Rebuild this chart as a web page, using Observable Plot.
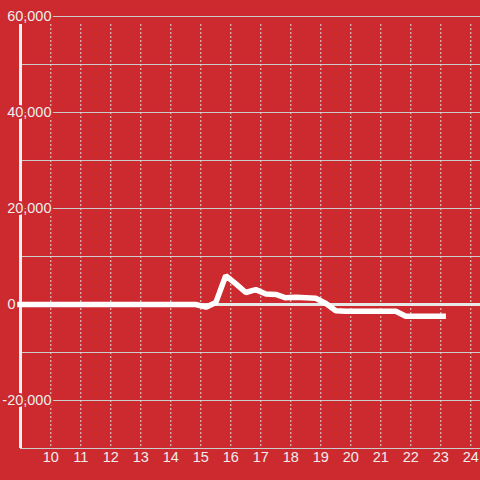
<!DOCTYPE html>
<html>
<head>
<meta charset="utf-8">
<script src="https://cdn.jsdelivr.net/npm/d3@7"></script>
<script src="https://cdn.jsdelivr.net/npm/@observablehq/plot@0.6"></script>
<style>
  html, body { margin: 0; padding: 0; background: #cc2a2f; }
  #chart { width: 480px; height: 480px; }
</style>
</head>
<body>
<div id="chart"></div>
<script>
// Data
const xs = [8.88, 14.83, 15.17, 15.5, 15.83, 16.17, 16.5, 16.83, 17.17, 17.5, 17.83, 18.17, 18.5, 18.83, 19.17, 19.5, 19.83, 21.5, 21.83, 23.17];
const ys = [0, 0, -550, 400, 6000, 4300, 2500, 3100, 2200, 2100, 1400, 1500, 1400, 1300, 200, -1300, -1400, -1400, -2440, -2440];
const xTicks = [10, 11, 12, 13, 14, 15, 16, 17, 18, 19, 20, 21, 22, 23, 24];
const yTickLabels = [60000, 40000, 20000, -20000];
const yZeroLabel = [0];
const yGrid = [60000, 50000, 40000, 30000, 20000, 10000, -10000, -20000];

const data = xs.map((x, i) => ({x, y: ys[i]}));
const bg = "#cc2a2f";
const fg = "#eeeeee";
const xDomain = [8.99, 24.323];
const yDomain = [-30000, 58333.33];
const fmt = d => d.toLocaleString("en-US");

const chart = Plot.plot({
  width: 480,
  height: 480,
  marginTop: 24,
  marginBottom: 32,
  marginLeft: 20,
  marginRight: 0,
  style: {background: bg, fontFamily: "'Liberation Sans', Arial, sans-serif", color: fg},
  x: {domain: xDomain, axis: null},
  y: {domain: yDomain, axis: null},
  marks: [
    Plot.ruleY(yGrid, {stroke: "#cccccc", strokeWidth: 1}),
    Plot.ruleX(xTicks, {stroke: "#dddddd", strokeWidth: 1, strokeDasharray: "2,2"}),
    Plot.ruleY([yDomain[0]], {stroke: "#cccccc", strokeWidth: 1}),
    Plot.ruleY([0], {stroke: "#e8e8e8", strokeWidth: 3}),
    Plot.ruleX([xDomain[0]], {stroke: "#f0f0f0", strokeWidth: 3}),
    Plot.text(yTickLabels, {
      x: xDomain[0], y: d => d, text: fmt, textAnchor: "end", dx: 31,
      fill: fg, stroke: bg, strokeWidth: 4, fontSize: 14.5
    }),
    Plot.text(yZeroLabel, {
      x: xDomain[0], y: d => d, text: fmt, textAnchor: "end", dx: -5,
      fill: fg, stroke: bg, strokeWidth: 4, fontSize: 14.5
    }),
    Plot.line(data, {x: "x", y: "y", stroke: "#ffffff", strokeWidth: 5.5, strokeLinejoin: "miter", strokeLinecap: "butt"}),
    Plot.text(xTicks, {
      x: d => d, frameAnchor: "bottom", dy: 13, text: d => String(d),
      fill: fg, fontSize: 14.5
    })
  ]
});
document.getElementById("chart").append(chart);
</script>
</body>
</html>
